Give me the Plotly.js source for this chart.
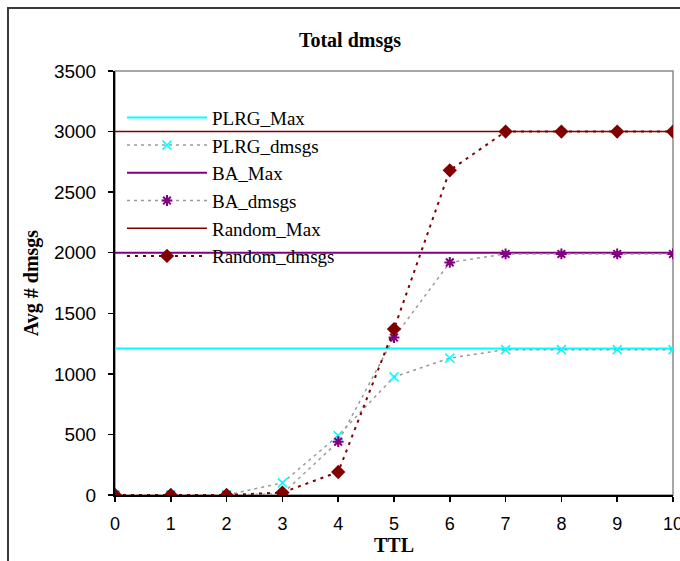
<!DOCTYPE html>
<html>
<head>
<meta charset="utf-8">
<script src="https://cdn.plot.ly/plotly-3.0.1.min.js"></script>
<style>
  html, body { margin: 0; padding: 0; background: #fff; }
  #wrap { position: relative; width: 680px; height: 561px; overflow: hidden; }
  #chart { width: 720px; height: 561px; }
  #frame { position: absolute; left: 7px; top: 7px; width: 720px; height: 620px;
           border: 2px solid #3a3a3a; pointer-events: none; box-sizing: border-box; }
</style>
</head>
<body>
<div id="wrap">
  <div id="chart"></div>
  <div id="frame"></div>
</div>
<script>
// TTL values (x axis)
const ttl = [0, 1, 2, 3, 4, 5, 6, 7, 8, 9, 10];
// Horizontal maximum reference levels
const plrgMax   = [1210, 1210, 1210, 1210, 1210, 1210, 1210, 1210, 1210, 1210, 1210];
const baMax     = [2000, 2000, 2000, 2000, 2000, 2000, 2000, 2000, 2000, 2000, 2000];
const randomMax = [3000, 3000, 3000, 3000, 3000, 3000, 3000, 3000, 3000, 3000, 3000];
// Measured series
const plrgDmsgs   = [0, 0, 0, 100, 490, 975, 1130, 1200, 1200, 1200, 1200];
const baDmsgs     = [0, 0, 0, 10, 440, 1300, 1920, 1990, 1990, 1990, 1990];
const randomDmsgs = [0, 0, 0, 20, 190, 1370, 2680, 3000, 3000, 3000, 3000];
// Tick values
const yTicks = [0, 500, 1000, 1500, 2000, 2500, 3000, 3500];

const cyan = '#00FFFF', purple = '#800080', dred = '#800000', grey = '#9a9a9a';

const traces = [
  {x: ttl, y: plrgMax, name: 'PLRG_Max', mode: 'lines', line: {color: cyan, width: 2}},
  {x: ttl, y: plrgDmsgs, name: 'PLRG_dmsgs', mode: 'lines+markers',
   line: {color: grey, width: 1.5, dash: '3px,4px'},
   marker: {symbol: 'x-thin-open', size: 9, color: cyan, line: {color: cyan, width: 1.5}}},
  {x: ttl, y: baMax, name: 'BA_Max', mode: 'lines', line: {color: purple, width: 2}},
  {x: ttl, y: baDmsgs, name: 'BA_dmsgs', mode: 'lines+markers',
   line: {color: grey, width: 1.5, dash: '3px,4px'},
   marker: {symbol: 'asterisk-open', size: 9, color: purple, line: {color: purple, width: 2}}},
  {x: ttl, y: randomMax, name: 'Random_Max', mode: 'lines', line: {color: dred, width: 1.5}},
  {x: ttl, y: randomDmsgs, name: 'Random_dmsgs', mode: 'lines+markers',
   line: {color: dred, width: 2, dash: '3px,5px'},
   marker: {symbol: 'diamond', size: 11, color: dred}}
];

const layout = {
  width: 720, height: 561,
  margin: {l: 115, r: 47, t: 71, b: 66, pad: 0},
  paper_bgcolor: '#fff', plot_bgcolor: '#fff',
  showlegend: true,
  title: {text: '<b>Total dmsgs</b>', x: 350 / 720, xanchor: 'center', y: 0.928, yanchor: 'middle',
          font: {family: 'Liberation Serif', size: 20, color: '#000'}},
  xaxis: {
    range: [0, 10], tickvals: ttl, ticktext: ttl.map(String),
    showgrid: false, zeroline: false, showline: true, linecolor: '#000', linewidth: 2,
    ticks: 'outside', ticklen: 5, tickwidth: 1.5, tickcolor: '#000', ticklabelstandoff: 6,
    tickfont: {family: 'Liberation Sans', size: 18, color: '#000'},
    title: {text: '<b>TTL</b>', standoff: 1, font: {family: 'Liberation Serif', size: 20, color: '#000'}},
    automargin: false, fixedrange: true
  },
  yaxis: {
    range: [0, 3500], tickvals: yTicks, ticktext: yTicks.map(String),
    showgrid: false, zeroline: false, showline: true, linecolor: '#000', linewidth: 2,
    ticks: 'outside', ticklen: 5, tickwidth: 1.5, tickcolor: '#000', ticklabelstandoff: 8,
    tickfont: {family: 'Liberation Sans', size: 19, color: '#000'},
    title: {text: '<b>Avg # dmsgs</b>', standoff: 10, font: {family: 'Liberation Serif', size: 20, color: '#000'}},
    automargin: false, fixedrange: true
  },
  legend: {
    x: 0.0125, xanchor: 'left', y: 0.935, yanchor: 'top',
    bgcolor: 'rgba(0,0,0,0)', borderwidth: 0, itemwidth: 80,
    font: {family: 'Liberation Serif', size: 19, color: '#000'},
    traceorder: 'normal'
  },
  shapes: [
    {type: 'rect', xref: 'paper', yref: 'paper', x0: 0, x1: 1, y0: 0, y1: 1,
     line: {color: '#8a8a8a', width: 1.5}, layer: 'below'}
  ]
};

Plotly.newPlot('chart', traces, layout, {displayModeBar: false, staticPlot: true});
</script>
</body>
</html>
